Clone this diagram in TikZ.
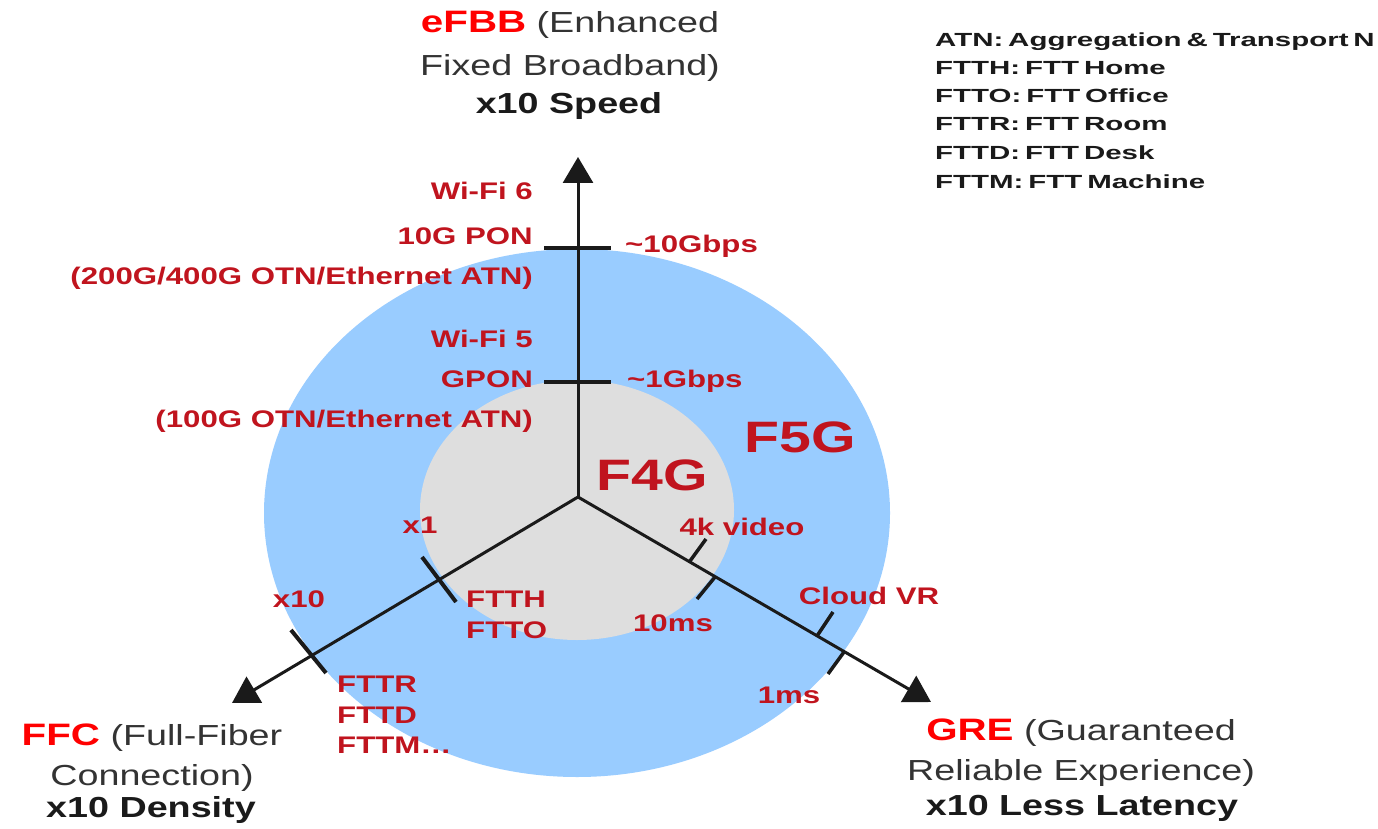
\documentclass[tikz,border=0pt]{standalone}
\usepackage{fontspec}
\setmainfont{Liberation Sans}[FakeStretch=1.3]
\newfontfamily\legfont{Liberation Sans}[FakeStretch=1.55,WordSpace=0.6]
\usetikzlibrary{arrows.meta}
\definecolor{blueF}{HTML}{99CCFF}
\definecolor{grayF}{HTML}{DEDEDE}
\definecolor{lblred}{HTML}{C0141E}
\definecolor{hdrred}{HTML}{FF0000}
\definecolor{hdrgray}{HTML}{333333}
\definecolor{axiscol}{HTML}{1A1A1A}
\newcommand\acr[1]{{\color{hdrred}\bfseries\fontsize{31}{36}\selectfont #1}}
\begin{document}
\begin{tikzpicture}[x=1pt,y=-1pt,
  lbl/.style={inner sep=0pt, text=lblred, font=\fontsize{24}{28}\selectfont\bfseries},
  big/.style={inner sep=0pt, text=lblred, font=\fontsize{44}{50}\selectfont\bfseries},
  hdr/.style={inner sep=0pt, anchor=mid, text=hdrgray, font=\fontsize{29}{36}\selectfont},
  hdrb/.style={hdr, text=axiscol, font=\fontsize{29}{36}\selectfont\bfseries},
  leg/.style={inner sep=0pt, anchor=mid west, text=axiscol, font=\legfont\fontsize{19}{24}\selectfont\bfseries},
  axisline/.style={line width=3pt, draw=axiscol, -{Triangle[length=26pt,width=30pt]}},
  tickmark/.style={line width=4pt, draw=axiscol},
]
\useasboundingbox (0,0) rectangle (1378,829);
\fill[white] (0,0) rectangle (1378,829);

% rings
\fill[blueF] (577,513) ellipse [x radius=313pt, y radius=264pt];
\fill[grayF] (577,510) ellipse [x radius=157pt, y radius=130pt];

% axes
\coordinate (O) at (578,497);
\coordinate (tipN) at (578,157);
\coordinate (tipSW) at (232,703);
\coordinate (tipSE) at (931,702);
\draw[axisline] (O) -- (tipN);
\draw[axisline] (O) -- (tipSW);
\draw[axisline] (O) -- (tipSE);

% ticks
\coordinate (t10a) at (544,248); \coordinate (t10b) at (611,248);
\coordinate (t1a) at (544,382);  \coordinate (t1b) at (611,382);
\draw[tickmark] (t10a) -- (t10b);
\draw[tickmark] (t1a) -- (t1b);
\coordinate (x1a) at (422,557);  \coordinate (x1b) at (456,602);
\coordinate (x10a) at (291,630); \coordinate (x10b) at (326,673);
\draw[tickmark] (x1a) -- (x1b);
\draw[tickmark] (x10a) -- (x10b);
\coordinate (k4a) at (690,561);  \coordinate (k4b) at (706,539);
\coordinate (m10a) at (715,577); \coordinate (m10b) at (697,599);
\coordinate (vra) at (817,636);  \coordinate (vrb) at (833,612);
\coordinate (m1a) at (844,652);  \coordinate (m1b) at (828,674);
\draw[tickmark,line width=3.5pt] (k4a) -- (k4b);
\draw[tickmark,line width=3.5pt] (m10a) -- (m10b);
\draw[tickmark,line width=3.5pt] (vra) -- (vrb);
\draw[tickmark,line width=3.5pt] (m1a) -- (m1b);

% vertical axis labels
\node[lbl, anchor=mid east] (wifi6) at (533,197) {Wi-Fi 6};
\node[lbl, anchor=mid east] (pon10) at (533,242) {10G PON};
\node[lbl, anchor=mid east] (otn400) at (533,282) {(200G/400G OTN/Ethernet ATN)};
\node[lbl, anchor=mid west] (g10) at (625,250) {\textasciitilde10Gbps};
\node[lbl, anchor=mid east] (wifi5) at (533,345) {Wi-Fi 5};
\node[lbl, anchor=mid east] (gpon) at (533,385) {GPON};
\node[lbl, anchor=mid east] (otn100) at (533,425) {(100G OTN/Ethernet ATN)};
\node[lbl, anchor=mid west] (g1) at (627,385) {\textasciitilde1Gbps};

% big labels
\node[big, anchor=mid] (f5g) at (800,450) {F5G};
\node[big, anchor=mid] (f4g) at (652,488) {F4G};

% lower-left labels
\node[lbl, anchor=mid] (lx1) at (420,531) {x1};
\node[lbl, anchor=mid] (lx10) at (299,605) {x10};
\node[lbl, anchor=mid west] (ftth) at (466,605) {FTTH};
\node[lbl, anchor=mid west] (ftto) at (466,636) {FTTO};
\node[lbl, anchor=mid west] (fttr) at (337,690) {FTTR};
\node[lbl, anchor=mid west] (fttd) at (337,721) {FTTD};
\node[lbl, anchor=mid west] (fttm) at (337,751) {FTTM\ldots};

% lower-right labels
\node[lbl, anchor=mid] (k4) at (742,533) {4k video};
\node[lbl, anchor=mid] (ms10) at (673,629) {10ms};
\node[lbl, anchor=mid] (cvr) at (869,602) {Cloud VR};
\node[lbl, anchor=mid] (ms1) at (789,701) {1ms};

% headers
\node[hdr] (efbb1) at (570,30) {\acr{eFBB} (Enhanced};
\node[hdr] (efbb2) at (570,73) {Fixed Broadband)};
\node[hdrb] (efbb3) at (569,111) {x10 Speed};
\node[hdr] (ffc1) at (152,743) {\acr{FFC} (Full-Fiber};
\node[hdr] (ffc2) at (152,783) {Connection)};
\node[hdrb] (ffc3) at (151,815) {x10 Density};
\node[hdr] (gre1) at (1081,738) {\acr{GRE} (Guaranteed};
\node[hdr] (gre2) at (1081,778) {Reliable Experience)};
\node[hdrb] (gre3) at (1082,813) {x10 Less Latency};

% legend
\node[leg] (leg1) at (935,44) {ATN: Aggregation \& Transport N};
\node[leg] (leg2) at (935,72) {FTTH: FTT Home};
\node[leg] (leg3) at (935,100) {FTTO: FTT Office};
\node[leg] (leg4) at (935,128) {FTTR: FTT Room};
\node[leg] (leg5) at (935,157) {FTTD: FTT Desk};
\node[leg] (leg6) at (935,186) {FTTM: FTT Machine};
\end{tikzpicture}
\end{document}
